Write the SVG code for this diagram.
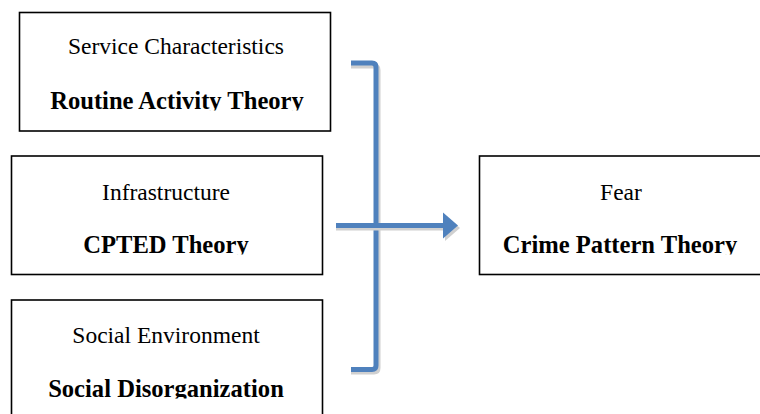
<svg xmlns="http://www.w3.org/2000/svg" width="760" height="414" viewBox="0 0 760 414">
  <style>
    .box { fill: #ffffff; stroke: #000000; stroke-width: 1.6; }
    .reg { font-family: "Liberation Serif", "Times New Roman", serif; font-size: 23.5px; fill: #000; text-anchor: middle; }
    .bold { font-family: "Liberation Serif", "Times New Roman", serif; font-size: 24.6px; font-weight: bold; fill: #000; text-anchor: middle; }
    .conn { fill: none; stroke: #4F81BD; stroke-width: 5; }
    .shadow { fill: none; stroke: #d0d0d0; stroke-width: 5; }
  </style>
  <defs>
    <clipPath id="c1"><rect x="0" y="0" width="760" height="110.5"/></clipPath>
    <clipPath id="c2"><rect x="0" y="0" width="760" height="254.5"/></clipPath>
    <clipPath id="c3"><rect x="0" y="0" width="760" height="398.5"/></clipPath>
  </defs>

  <g id="node-service">
    <rect class="box" x="19.5" y="12.5" width="311" height="118.5"/>
    <text class="reg" x="176" y="54">Service Characteristics</text>
    <text class="bold" x="177" y="109" clip-path="url(#c1)">Routine Activity Theory</text>
  </g>

  <g id="node-infrastructure">
    <rect class="box" x="11.5" y="156" width="311" height="118.5"/>
    <text class="reg" x="166" y="200">Infrastructure</text>
    <text class="bold" x="166" y="253" clip-path="url(#c2)">CPTED Theory</text>
  </g>

  <g id="node-social">
    <rect class="box" x="11.5" y="300" width="311" height="130"/>
    <text class="reg" x="166" y="343">Social Environment</text>
    <text class="bold" x="166" y="397" clip-path="url(#c3)">Social Disorganization</text>
  </g>

  <g id="node-fear">
    <rect class="box" x="479.5" y="156" width="300" height="118.5"/>
    <text class="reg" x="621" y="200">Fear</text>
    <text class="bold" x="620" y="253" clip-path="url(#c2)">Crime Pattern Theory</text>
  </g>

  <g id="connectors">
    <path class="shadow" d="M351 66 H374 Q378 66 378 70 V368 Q378 372 374 372 H351"/>
    <path class="conn" d="M351 63 H372 Q376 63 376 67 V365.5 Q376 369.5 372 369.5 H351"/>
    <line class="shadow" x1="336" y1="228" x2="443" y2="228"/>
    <polygon points="445,215 460,228 445,241" fill="#d0d0d0"/>
    <line class="conn" x1="336" y1="225.5" x2="444" y2="225.5"/>
    <polygon points="443,212.5 458,225.5 443,238.5" fill="#4F81BD"/>
  </g>
</svg>
